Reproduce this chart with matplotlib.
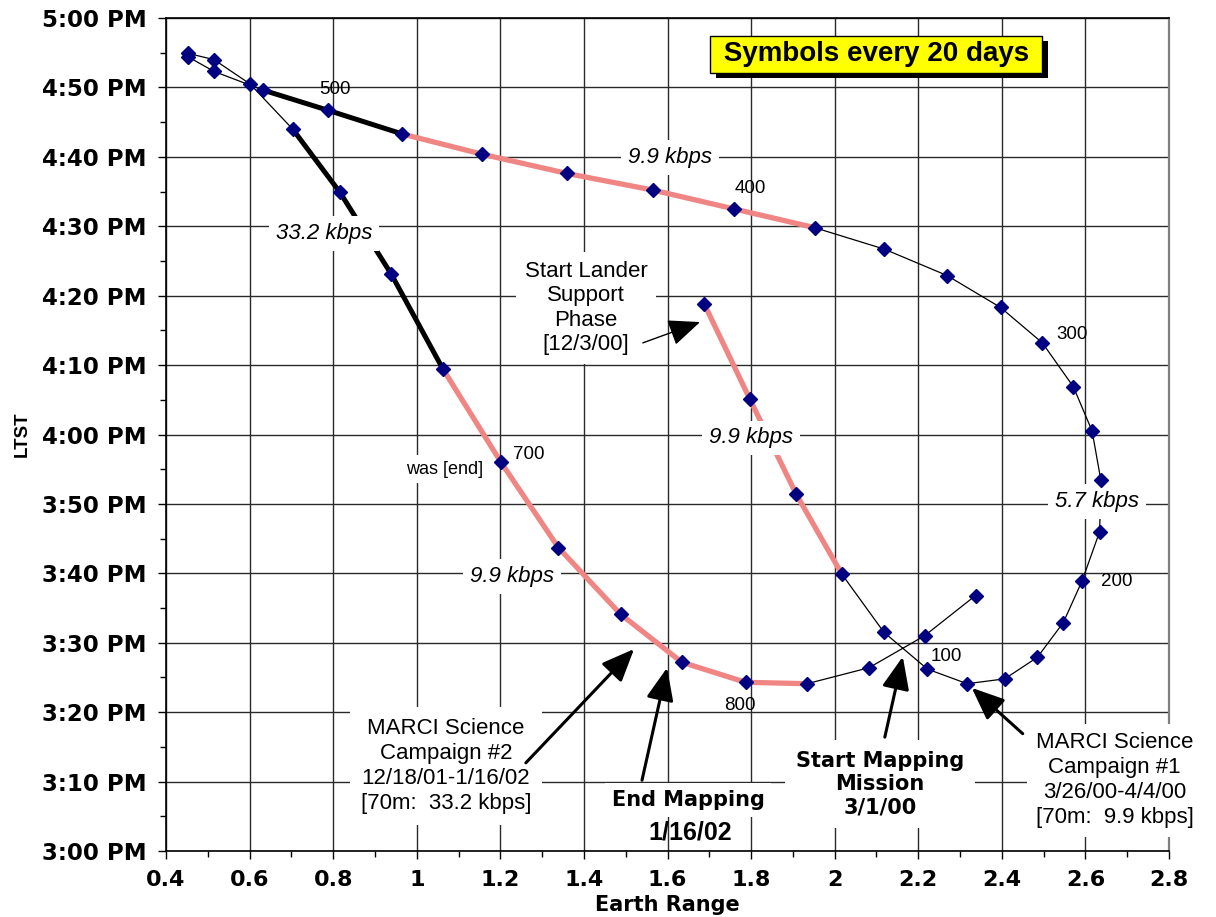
import matplotlib
matplotlib.use("Agg")
import matplotlib.pyplot as plt
from matplotlib import patheffects

# ---------------- data ----------------
# Earth range and LTST (minutes after 3:00 PM), one symbol every 20 days
earth_range = [1.688, 1.797, 1.908, 2.017, 2.118, 2.222, 2.317, 2.407, 2.485, 2.547,
               2.592, 2.634, 2.637, 2.616, 2.571, 2.497, 2.397, 2.269, 2.119, 1.952,
               1.759, 1.566, 1.360, 1.155, 0.965, 0.788, 0.633, 0.515, 0.453, 0.453,
               0.515, 0.601, 0.703, 0.816, 0.939, 1.062, 1.201, 1.339, 1.488, 1.634,
               1.787, 1.934, 2.082, 2.215, 2.337]
ltst_min = [78.8, 65.1, 51.4, 39.9, 31.5, 26.2, 24.1, 24.8, 27.9, 32.9,
            38.9, 46.0, 53.4, 60.5, 66.9, 73.2, 78.3, 82.9, 86.7, 89.8,
            92.5, 95.2, 97.6, 100.4, 103.3, 106.7, 109.6, 112.3, 114.4, 114.9,
            114.0, 110.5, 104.0, 94.9, 83.1, 69.5, 56.05, 43.7, 34.1, 27.2,
            24.3, 24.1, 26.4, 31.0, 36.8]

# data-rate segments (first, last point index)
pink_segments = [(0, 3), (19, 24), (35, 41)]     # 9.9 kbps
black_segments = [(24, 26), (32, 35)]            # 33.2 kbps

x_ticks = [0.4, 0.6, 0.8, 1.0, 1.2, 1.4, 1.6, 1.8, 2.0, 2.2, 2.4, 2.6, 2.8]
x_tick_labels = ["0.4", "0.6", "0.8", "1", "1.2", "1.4", "1.6", "1.8", "2",
                 "2.2", "2.4", "2.6", "2.8"]
y_ticks = [0, 10, 20, 30, 40, 50, 60, 70, 80, 90, 100, 110, 120]
y_tick_labels = ["3:00 PM", "3:10 PM", "3:20 PM", "3:30 PM", "3:40 PM", "3:50 PM",
                 "4:00 PM", "4:10 PM", "4:20 PM", "4:30 PM", "4:40 PM", "4:50 PM",
                 "5:00 PM"]

day_labels = ["100", "200", "300", "400", "500", "700", "800"]
day_label_x = [2.266, 2.675, 2.567, 1.797, 0.804, 1.268, 1.773]
day_label_y = [28.0, 38.8, 74.4, 95.4, 109.7, 57.1, 20.9]

rate_labels = ["9.9 kbps", "33.2 kbps", "9.9 kbps", "5.7 kbps", "9.9 kbps"]
rate_label_x = [1.606, 0.778, 1.800, 2.627, 1.228]
rate_label_y = [99.9, 89.0, 59.5, 50.3, 39.5]

PINK = "#F08683"
NAVY = "#000080"

fig = plt.figure(figsize=(12.16, 9.17), dpi=100)
W, H = 1216, 917
ax = fig.add_axes([166 / W, 1 - 851 / H, (1169 - 166) / W, (851 - 18) / H])

ax.set_xlim(0.4, 2.8)
ax.set_ylim(0, 120)
ax.set_xticks(x_ticks)
ax.set_xticklabels(x_tick_labels, fontsize=16, fontweight="bold", family="DejaVu Sans")
ax.set_yticks(y_ticks)
ax.set_yticklabels(y_tick_labels, fontsize=16.5, fontweight="bold", family="DejaVu Sans")
ax.set_xticks([0.5 + 0.2 * i for i in range(12)], minor=True)
ax.set_yticks([5 + 10 * i for i in range(12)], minor=True)
ax.tick_params(which="major", direction="out", length=6, width=1, pad=8)
ax.tick_params(which="minor", direction="out", length=4, width=1)
ax.grid(True, which="major", color="#2a2a2a", lw=1.0)
ax.set_axisbelow(True)
for s in ["left", "bottom", "top"]:
    ax.spines[s].set_color("black")
    ax.spines[s].set_linewidth(1.2)
ax.spines["right"].set_color("#808080")
ax.spines["right"].set_linewidth(1.6)

ax.set_xlabel("Earth Range", fontsize=15, fontweight="bold", family="DejaVu Sans",
              labelpad=3)
ax.set_ylabel("LTST", fontsize=13.5, fontweight="bold", family="Liberation Sans")
ax.yaxis.set_label_coords(-0.135, 0.5)

# thin trajectory line
ax.plot(earth_range, ltst_min, color="black", lw=0.9, zorder=2)
for a, b in pink_segments:
    ax.plot(earth_range[a:b + 1], ltst_min[a:b + 1], color=PINK, lw=3.8,
            solid_capstyle="butt", zorder=3)
for a, b in black_segments:
    ax.plot(earth_range[a:b + 1], ltst_min[a:b + 1], color="black", lw=3.6,
            solid_capstyle="butt", zorder=3)
ax.plot(earth_range, ltst_min, linestyle="none", marker="D", ms=7.5,
        mfc=NAVY, mec=NAVY, zorder=6.5)

white = dict(facecolor="white", edgecolor="none", pad=4)

for t, x, y in zip(day_labels, day_label_x, day_label_y):
    ax.text(x, y, t, fontsize=13.5, family="Liberation Sans", ha="center",
            va="center", zorder=6)

for t, x, y in zip(rate_labels, rate_label_x, rate_label_y):
    ax.text(x, y, t, fontsize=16, style="italic", family="Liberation Sans",
            ha="center", va="center", bbox=dict(facecolor="white", edgecolor="none",
                                                pad=5), zorder=6)

ax.text(1.067, 55.0, "was [end]", fontsize=13, family="Liberation Sans",
        ha="center", va="center", bbox=white, zorder=6)

ax.text(1.405, 78.2, "Start Lander\nSupport\nPhase\n[12/3/00]", fontsize=16,
        family="Liberation Sans", ha="center", va="center", linespacing=1.22,
        bbox=dict(facecolor="white", edgecolor="none", pad=6), zorder=6)

ax.text(1.070, 12.2, "MARCI Science\nCampaign #2\n12/18/01-1/16/02\n[70m:  33.2 kbps]",
        fontsize=16, family="Liberation Sans", ha="center", va="center",
        linespacing=1.25, bbox=dict(facecolor="white", edgecolor="none", pad=8),
        zorder=6)

ax.text(1.649, 7.3, "End Mapping", fontsize=15, fontweight="bold",
        family="DejaVu Sans", ha="center", va="center",
        bbox=dict(facecolor="white", edgecolor="none", pad=5), zorder=6)
ax.text(1.654, 2.6, "1/16/02", fontsize=18, fontweight="bold",
        family="Liberation Sans", ha="center", va="center", zorder=6)

ax.text(2.108, 9.6, "Start Mapping\nMission\n3/1/00", fontsize=15, fontweight="bold",
        family="DejaVu Sans", ha="center", va="center", linespacing=1.18,
        bbox=dict(facecolor="white", edgecolor="none", pad=8), zorder=6)

ax.text(2.670, 10.2, "MARCI Science\nCampaign #1\n3/26/00-4/4/00\n[70m:  9.9 kbps]",
        fontsize=16, family="Liberation Sans", ha="center", va="center",
        linespacing=1.25, bbox=dict(facecolor="white", edgecolor="none", pad=6),
        zorder=6, clip_on=False)

box = ax.text(2.100, 114.8, " Symbols every 20 days ", fontsize=20, fontweight="bold",
              family="Liberation Sans", ha="center", va="center", zorder=7,
              bbox=dict(boxstyle="square,pad=0.2", facecolor="#FFFF00",
                        edgecolor="black", lw=1))
box.get_bbox_patch().set_path_effects([
    patheffects.SimplePatchShadow(offset=(4, -4), shadow_rgbFace="black", alpha=1.0),
    patheffects.Normal()])

def arrow(tail, tip, lw=2.2):
    ax.annotate("", xy=tip, xytext=tail,
                arrowprops=dict(arrowstyle="-|>,head_length=1.0,head_width=0.42",
                                color="black", lw=lw, mutation_scale=20,
                                shrinkA=0, shrinkB=0), zorder=7)

arrow((1.261, 12.7), (1.520, 29.1))
arrow((1.539, 10.2), (1.599, 26.4))
arrow((2.120, 16.4), (2.163, 28.0))
arrow((2.450, 16.9), (2.328, 23.5))
arrow((1.541, 73.2), (1.678, 76.2), lw=1.0)

fig.savefig("out.png", dpi=100)
